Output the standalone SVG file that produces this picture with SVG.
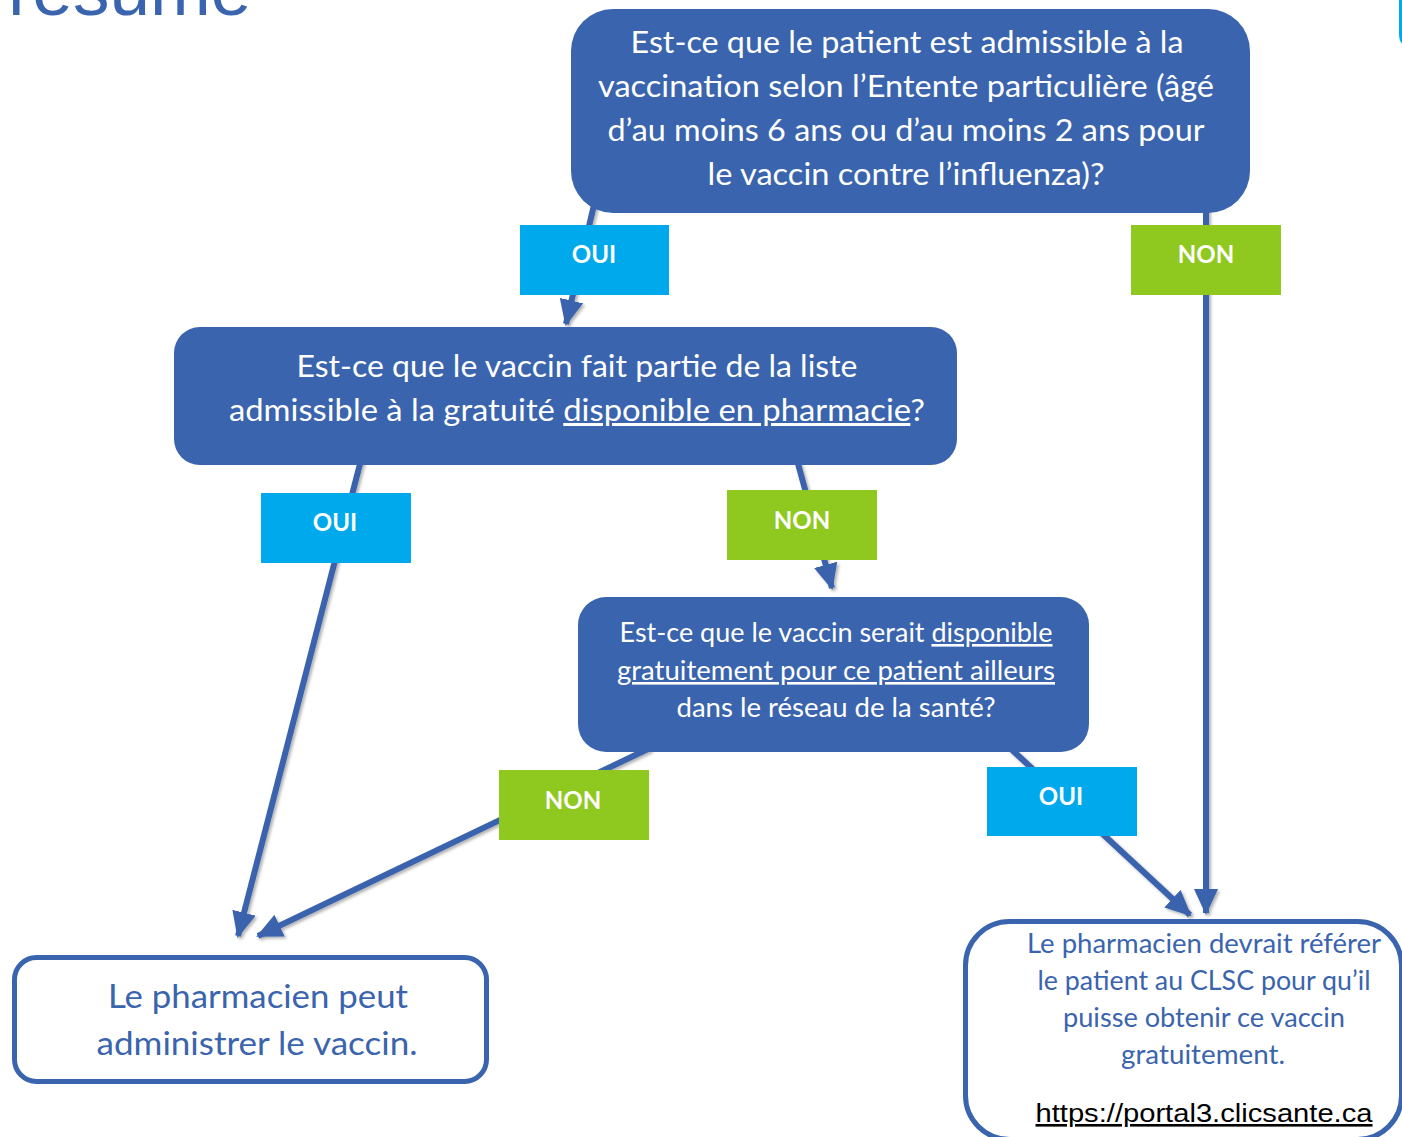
<svg xmlns="http://www.w3.org/2000/svg" width="1402" height="1137" viewBox="0 0 1402 1137">
<style>
  .q { fill: #3A64AD; }
  .qt { font-family: Lato, "Open Sans", "Liberation Sans", sans-serif; fill: #ffffff; text-anchor: middle; }
  .out { fill: #ffffff; stroke: #3A64AD; stroke-width: 5; }
  .ot { font-family: Lato, "Open Sans", "Liberation Sans", sans-serif; fill: #3A64AD; text-anchor: middle; }
  .oui { fill: #00A9EC; }
  .non { fill: #8FC91F; }
  .lt { font-family: Lato, "Open Sans", "Liberation Sans", sans-serif; font-weight: bold; font-size: 24px; fill: #ffffff; text-anchor: middle; }
  .conn { fill: none; stroke: #3A64AD; stroke-width: 6; marker-end: url(#ah); }
  .u { text-decoration: underline; }
</style>
<defs>
  <marker id="ah" markerUnits="userSpaceOnUse" markerWidth="26" markerHeight="24" refX="24" refY="12" orient="auto">
    <path d="M0,0 L26,12 L0,24 Z" fill="#3A64AD"/>
  </marker>
  <filter id="sh" x="-20%" y="-20%" width="140%" height="140%">
    <feDropShadow dx="2" dy="2" stdDeviation="1.5" flood-color="#000000" flood-opacity="0.3"/>
  </filter>
</defs>

<text x="8" y="15" font-family="'Liberation Sans', Arial, sans-serif" font-size="73" fill="#3A64AD">résumé</text>
<path d="M1400.5,0 V34 Q1400.5,45 1410,45" fill="none" stroke="#00A9EC" stroke-width="3"/>

<g id="connectors" filter="url(#sh)">
  <line class="conn" x1="594" y1="205" x2="566" y2="324"/>
  <line class="conn" x1="1206" y1="205" x2="1206" y2="913"/>
  <line class="conn" x1="361" y1="460" x2="238" y2="936"/>
  <line class="conn" x1="797" y1="460" x2="832" y2="588"/>
  <line class="conn" x1="650" y1="748" x2="258" y2="936"/>
  <line class="conn" x1="1010" y1="748" x2="1190" y2="915"/>
</g>

<g id="q1">
  <rect class="q" x="571" y="9" width="679" height="204" rx="42"/>
  <text class="qt" font-size="30" x="907" y="53" textLength="553" lengthAdjust="spacingAndGlyphs">Est-ce que le patient est admissible à la</text>
  <text class="qt" font-size="30" x="906" y="97" textLength="616" lengthAdjust="spacingAndGlyphs">vaccination selon l’Entente particulière (âgé</text>
  <text class="qt" font-size="30" x="906" y="141" textLength="597" lengthAdjust="spacingAndGlyphs">d’au moins 6 ans ou d’au moins 2 ans pour</text>
  <text class="qt" font-size="30" x="906" y="185" textLength="397" lengthAdjust="spacingAndGlyphs">le vaccin contre l’influenza)?</text>
</g>

<g id="label-oui-1">
  <rect class="oui" x="520" y="225" width="149" height="70"/>
  <text class="lt" x="594" y="263">OUI</text>
</g>
<g id="label-non-1">
  <rect class="non" x="1131" y="225" width="150" height="70"/>
  <text class="lt" x="1206" y="263">NON</text>
</g>

<g id="q2">
  <rect class="q" x="174" y="327" width="783" height="138" rx="26"/>
  <text class="qt" font-size="30" x="577" y="377" textLength="561" lengthAdjust="spacingAndGlyphs">Est-ce que le vaccin fait partie de la liste</text>
  <text class="qt" font-size="30" x="577" y="421" textLength="696" lengthAdjust="spacingAndGlyphs">admissible à la gratuité <tspan class="u">disponible en pharmacie</tspan>?</text>
</g>

<g id="label-oui-2">
  <rect class="oui" x="261" y="493" width="150" height="70"/>
  <text class="lt" x="335" y="531">OUI</text>
</g>
<g id="label-non-2">
  <rect class="non" x="727" y="490" width="150" height="70"/>
  <text class="lt" x="802" y="529">NON</text>
</g>

<g id="q3">
  <rect class="q" x="578" y="597" width="511" height="155" rx="28"/>
  <text class="qt" font-size="26" x="836" y="642" textLength="433" lengthAdjust="spacingAndGlyphs">Est-ce que le vaccin serait <tspan class="u">disponible</tspan></text>
  <text class="qt u" font-size="26" x="836" y="680" textLength="438" lengthAdjust="spacingAndGlyphs">gratuitement pour ce patient ailleurs</text>
  <text class="qt" font-size="26" x="836" y="717" textLength="319" lengthAdjust="spacingAndGlyphs">dans le réseau de la santé?</text>
</g>

<g id="label-non-3">
  <rect class="non" x="499" y="770" width="150" height="70"/>
  <text class="lt" x="573" y="809">NON</text>
</g>
<g id="label-oui-3">
  <rect class="oui" x="987" y="767" width="150" height="69"/>
  <text class="lt" x="1061" y="805">OUI</text>
</g>

<g id="out-administer">
  <rect class="out" x="14.5" y="957.5" width="472" height="124" rx="22"/>
  <text class="ot" font-size="32" x="258" y="1008" textLength="300" lengthAdjust="spacingAndGlyphs">Le pharmacien peut</text>
  <text class="ot" font-size="32" x="257" y="1055" textLength="321" lengthAdjust="spacingAndGlyphs">administrer le vaccin.</text>
</g>

<g id="out-refer">
  <rect class="out" x="965.5" y="921.5" width="436" height="218" rx="44"/>
  <text class="ot" font-size="26" x="1204" y="953" textLength="354" lengthAdjust="spacingAndGlyphs">Le pharmacien devrait référer</text>
  <text class="ot" font-size="26" x="1204" y="990" textLength="333" lengthAdjust="spacingAndGlyphs">le patient au CLSC pour qu’il</text>
  <text class="ot" font-size="26" x="1204" y="1027" textLength="282" lengthAdjust="spacingAndGlyphs">puisse obtenir ce vaccin</text>
  <text class="ot" font-size="26" x="1203" y="1064" textLength="164" lengthAdjust="spacingAndGlyphs">gratuitement.</text>
  <text x="1204" y="1122" font-family="'Liberation Sans', Arial, sans-serif" font-size="26" fill="#000000" text-anchor="middle" text-decoration="underline" textLength="337" lengthAdjust="spacingAndGlyphs">https://portal3.clicsante.ca</text>
</g>
</svg>
